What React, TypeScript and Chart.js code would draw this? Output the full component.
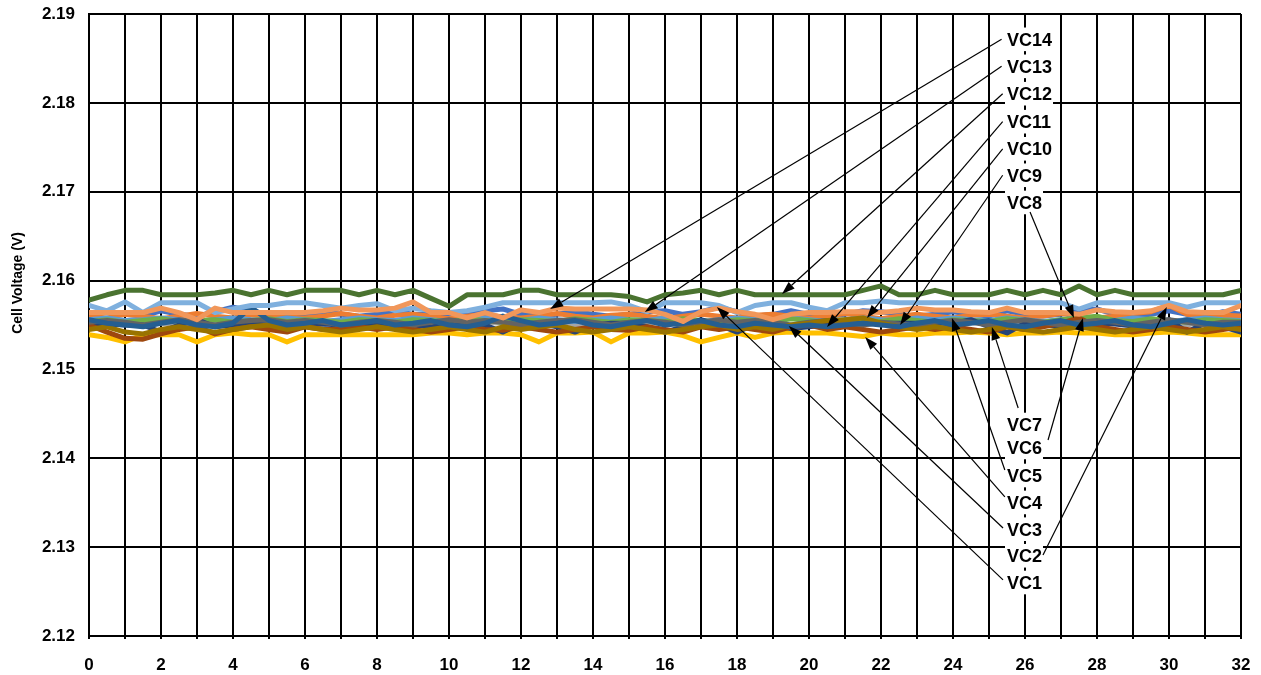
import React, { useEffect, useRef } from 'react';
import { Chart, registerables } from 'chart.js';

Chart.register(...registerables);

// Time axis (every half unit)
const TIMES = [
  0, 0.5, 1, 1.5, 2, 2.5, 3, 3.5, 4, 4.5, 5, 5.5, 6, 6.5, 7, 7.5,
  8, 8.5, 9, 9.5, 10, 10.5, 11, 11.5, 12, 12.5, 13, 13.5, 14, 14.5, 15, 15.5,
  16, 16.5, 17, 17.5, 18, 18.5, 19, 19.5, 20, 20.5, 21, 21.5, 22, 22.5, 23, 23.5,
  24, 24.5, 25, 25.5, 26, 26.5, 27, 27.5, 28, 28.5, 29, 29.5, 30, 30.5, 31, 31.5,
  32,
];

const VC1 = [
  2.1562, 2.1566, 2.1562, 2.1560, 2.1566, 2.1562, 2.1560, 2.1565, 2.1570, 2.1566, 2.1562, 2.1560, 2.1562, 2.1565, 2.1562, 2.1560,
  2.1562, 2.1566, 2.1562, 2.1562, 2.1560, 2.1562, 2.1566, 2.1568, 2.1562, 2.1560, 2.1562, 2.1565, 2.1562, 2.1560, 2.1562, 2.1565,
  2.1566, 2.1562, 2.1565, 2.1570, 2.1565, 2.1560, 2.1562, 2.1566, 2.1562, 2.1560, 2.1562, 2.1566, 2.1565, 2.1562, 2.1560, 2.1562,
  2.1565, 2.1562, 2.1560, 2.1566, 2.1562, 2.1560, 2.1562, 2.1566, 2.1568, 2.1562, 2.1560, 2.1562, 2.1566, 2.1562, 2.1560, 2.1565,
  2.1562,
];
const VC2 = [
  2.1560, 2.1558, 2.1562, 2.1560, 2.1557, 2.1560, 2.1563, 2.1560, 2.1558, 2.1561, 2.1562, 2.1559, 2.1558, 2.1560, 2.1563, 2.1560,
  2.1558, 2.1561, 2.1562, 2.1560, 2.1557, 2.1560, 2.1562, 2.1559, 2.1558, 2.1560, 2.1563, 2.1560, 2.1558, 2.1561, 2.1562, 2.1560,
  2.1557, 2.1560, 2.1562, 2.1560, 2.1558, 2.1561, 2.1562, 2.1560, 2.1558, 2.1560, 2.1563, 2.1560, 2.1557, 2.1560, 2.1562, 2.1560,
  2.1558, 2.1561, 2.1562, 2.1560, 2.1558, 2.1560, 2.1563, 2.1560, 2.1558, 2.1560, 2.1563, 2.1565, 2.1572, 2.1562, 2.1560, 2.1561,
  2.1560,
];
const VC3 = [
  2.1552, 2.1550, 2.1553, 2.1555, 2.1552, 2.1550, 2.1553, 2.1552, 2.1555, 2.1552, 2.1550, 2.1553, 2.1552, 2.1550, 2.1555, 2.1552,
  2.1550, 2.1553, 2.1552, 2.1555, 2.1552, 2.1550, 2.1553, 2.1552, 2.1550, 2.1555, 2.1552, 2.1550, 2.1553, 2.1552, 2.1550, 2.1553,
  2.1552, 2.1555, 2.1552, 2.1550, 2.1553, 2.1552, 2.1550, 2.1549, 2.1552, 2.1555, 2.1552, 2.1550, 2.1553, 2.1552, 2.1550, 2.1553,
  2.1552, 2.1555, 2.1552, 2.1550, 2.1553, 2.1552, 2.1550, 2.1553, 2.1555, 2.1552, 2.1550, 2.1553, 2.1552, 2.1550, 2.1555, 2.1552,
  2.1550,
];
const VC4 = [
  2.1539, 2.1536, 2.1531, 2.1539, 2.1539, 2.1539, 2.1531, 2.1539, 2.1541, 2.1539, 2.1539, 2.1531, 2.1539, 2.1539, 2.1539, 2.1539,
  2.1539, 2.1539, 2.1539, 2.1541, 2.1541, 2.1539, 2.1541, 2.1541, 2.1539, 2.1531, 2.1541, 2.1541, 2.1542, 2.1531, 2.1541, 2.1541,
  2.1542, 2.1538, 2.1531, 2.1536, 2.1541, 2.1536, 2.1541, 2.1542, 2.1541, 2.1541, 2.1539, 2.1537, 2.1541, 2.1539, 2.1539, 2.1541,
  2.1541, 2.1542, 2.1541, 2.1539, 2.1541, 2.1541, 2.1542, 2.1541, 2.1541, 2.1539, 2.1539, 2.1541, 2.1542, 2.1541, 2.1539, 2.1539,
  2.1539,
];
const VC5 = [
  2.1556, 2.1558, 2.1555, 2.1556, 2.1558, 2.1556, 2.1554, 2.1556, 2.1558, 2.1556, 2.1555, 2.1558, 2.1556, 2.1554, 2.1556, 2.1558,
  2.1556, 2.1555, 2.1558, 2.1556, 2.1554, 2.1556, 2.1558, 2.1556, 2.1555, 2.1558, 2.1556, 2.1554, 2.1556, 2.1558, 2.1556, 2.1555,
  2.1558, 2.1556, 2.1554, 2.1556, 2.1558, 2.1556, 2.1555, 2.1558, 2.1556, 2.1554, 2.1556, 2.1558, 2.1556, 2.1555, 2.1558, 2.1556,
  2.1558, 2.1556, 2.1555, 2.1558, 2.1556, 2.1554, 2.1556, 2.1558, 2.1556, 2.1555, 2.1558, 2.1556, 2.1554, 2.1556, 2.1558, 2.1556,
  2.1555,
];
const VC6 = [
  2.1554, 2.1556, 2.1553, 2.1555, 2.1557, 2.1554, 2.1555, 2.1556, 2.1553, 2.1555, 2.1557, 2.1554, 2.1556, 2.1555, 2.1553, 2.1556,
  2.1555, 2.1553, 2.1556, 2.1555, 2.1554, 2.1557, 2.1555, 2.1553, 2.1556, 2.1555, 2.1554, 2.1557, 2.1555, 2.1553, 2.1556, 2.1555,
  2.1554, 2.1557, 2.1555, 2.1553, 2.1556, 2.1555, 2.1554, 2.1557, 2.1555, 2.1553, 2.1556, 2.1555, 2.1554, 2.1557, 2.1555, 2.1553,
  2.1556, 2.1555, 2.1554, 2.1557, 2.1555, 2.1553, 2.1556, 2.1558, 2.1560, 2.1555, 2.1554, 2.1557, 2.1555, 2.1553, 2.1556, 2.1555,
  2.1554,
];
const VC7 = [
  2.1552, 2.1551, 2.1550, 2.1550, 2.1542, 2.1550, 2.1556, 2.1548, 2.1550, 2.1551, 2.1550, 2.1544, 2.1552, 2.1551, 2.1550, 2.1550,
  2.1550, 2.1550, 2.1550, 2.1548, 2.1550, 2.1551, 2.1550, 2.1542, 2.1552, 2.1552, 2.1548, 2.1542, 2.1550, 2.1552, 2.1552, 2.1548,
  2.1542, 2.1548, 2.1556, 2.1550, 2.1542, 2.1551, 2.1550, 2.1546, 2.1548, 2.1550, 2.1550, 2.1552, 2.1552, 2.1552, 2.1552, 2.1552,
  2.1552, 2.1556, 2.1548, 2.1541, 2.1552, 2.1550, 2.1549, 2.1552, 2.1552, 2.1551, 2.1549, 2.1552, 2.1556, 2.1542, 2.1552, 2.1548,
  2.1542,
];
const VC8 = [
  2.1550, 2.1542, 2.1535, 2.1534, 2.1540, 2.1545, 2.1548, 2.1540, 2.1545, 2.1548, 2.1545, 2.1542, 2.1548, 2.1545, 2.1545, 2.1548,
  2.1545, 2.1548, 2.1545, 2.1542, 2.1545, 2.1548, 2.1545, 2.1544, 2.1548, 2.1545, 2.1542, 2.1545, 2.1548, 2.1545, 2.1544, 2.1548,
  2.1545, 2.1542, 2.1548, 2.1545, 2.1548, 2.1545, 2.1542, 2.1548, 2.1550, 2.1545, 2.1548, 2.1545, 2.1542, 2.1545, 2.1548, 2.1545,
  2.1548, 2.1545, 2.1542, 2.1548, 2.1545, 2.1548, 2.1552, 2.1558, 2.1548, 2.1545, 2.1542, 2.1545, 2.1548, 2.1545, 2.1542, 2.1545,
  2.1548,
];
const VC9 = [
  2.1553, 2.1555, 2.1553, 2.1550, 2.1553, 2.1556, 2.1553, 2.1550, 2.1553, 2.1555, 2.1556, 2.1553, 2.1555, 2.1553, 2.1550, 2.1553,
  2.1555, 2.1553, 2.1550, 2.1553, 2.1556, 2.1553, 2.1555, 2.1553, 2.1550, 2.1553, 2.1555, 2.1556, 2.1553, 2.1550, 2.1553, 2.1555,
  2.1553, 2.1550, 2.1553, 2.1556, 2.1553, 2.1555, 2.1553, 2.1550, 2.1553, 2.1555, 2.1553, 2.1550, 2.1553, 2.1551, 2.1550, 2.1553,
  2.1555, 2.1553, 2.1550, 2.1553, 2.1556, 2.1553, 2.1550, 2.1553, 2.1555, 2.1553, 2.1550, 2.1553, 2.1556, 2.1553, 2.1550, 2.1553,
  2.1553,
];
const VC10 = [
  2.1545, 2.1548, 2.1542, 2.1540, 2.1545, 2.1548, 2.1545, 2.1542, 2.1545, 2.1548, 2.1550, 2.1545, 2.1548, 2.1545, 2.1542, 2.1545,
  2.1548, 2.1545, 2.1542, 2.1545, 2.1548, 2.1545, 2.1542, 2.1548, 2.1545, 2.1548, 2.1550, 2.1545, 2.1542, 2.1545, 2.1548, 2.1545,
  2.1542, 2.1545, 2.1548, 2.1550, 2.1545, 2.1548, 2.1545, 2.1550, 2.1552, 2.1555, 2.1556, 2.1558, 2.1552, 2.1548, 2.1545, 2.1548,
  2.1545, 2.1542, 2.1545, 2.1548, 2.1545, 2.1542, 2.1545, 2.1548, 2.1545, 2.1542, 2.1545, 2.1548, 2.1545, 2.1542, 2.1545, 2.1548,
  2.1545,
];
const VC11 = [
  2.1556, 2.1552, 2.1550, 2.1548, 2.1552, 2.1555, 2.1550, 2.1548, 2.1552, 2.1570, 2.1555, 2.1550, 2.1552, 2.1555, 2.1550, 2.1552,
  2.1555, 2.1550, 2.1552, 2.1555, 2.1550, 2.1548, 2.1552, 2.1560, 2.1555, 2.1550, 2.1552, 2.1555, 2.1550, 2.1548, 2.1552, 2.1555,
  2.1550, 2.1552, 2.1555, 2.1550, 2.1548, 2.1552, 2.1550, 2.1548, 2.1550, 2.1548, 2.1550, 2.1552, 2.1550, 2.1548, 2.1552, 2.1555,
  2.1550, 2.1552, 2.1555, 2.1550, 2.1548, 2.1552, 2.1555, 2.1550, 2.1552, 2.1555, 2.1550, 2.1548, 2.1552, 2.1556, 2.1552, 2.1550,
  2.1552,
];
const VC12 = [
  2.1578, 2.1584, 2.1589, 2.1589, 2.1584, 2.1584, 2.1584, 2.1586, 2.1589, 2.1584, 2.1589, 2.1584, 2.1589, 2.1589, 2.1589, 2.1584,
  2.1589, 2.1584, 2.1589, 2.1580, 2.1571, 2.1584, 2.1584, 2.1584, 2.1589, 2.1589, 2.1584, 2.1584, 2.1584, 2.1584, 2.1582, 2.1576,
  2.1584, 2.1586, 2.1589, 2.1584, 2.1589, 2.1584, 2.1584, 2.1584, 2.1584, 2.1584, 2.1584, 2.1589, 2.1594, 2.1584, 2.1584, 2.1589,
  2.1584, 2.1584, 2.1584, 2.1589, 2.1584, 2.1589, 2.1584, 2.1594, 2.1584, 2.1589, 2.1584, 2.1584, 2.1584, 2.1584, 2.1584, 2.1584,
  2.1589,
];
const VC13 = [
  2.1572, 2.1566, 2.1576, 2.1564, 2.1575, 2.1575, 2.1575, 2.1564, 2.1568, 2.1572, 2.1572, 2.1575, 2.1575, 2.1572, 2.1569, 2.1572,
  2.1574, 2.1566, 2.1569, 2.1566, 2.1564, 2.1566, 2.1570, 2.1575, 2.1575, 2.1575, 2.1575, 2.1575, 2.1575, 2.1576, 2.1572, 2.1565,
  2.1575, 2.1575, 2.1575, 2.1572, 2.1564, 2.1572, 2.1575, 2.1575, 2.1570, 2.1566, 2.1575, 2.1575, 2.1577, 2.1575, 2.1575, 2.1575,
  2.1575, 2.1575, 2.1575, 2.1575, 2.1575, 2.1575, 2.1575, 2.1568, 2.1575, 2.1575, 2.1575, 2.1575, 2.1575, 2.1570, 2.1575, 2.1575,
  2.1575,
];
const VC14 = [
  2.1564, 2.1564, 2.1564, 2.1564, 2.1569, 2.1564, 2.1556, 2.1569, 2.1564, 2.1564, 2.1564, 2.1564, 2.1564, 2.1566, 2.1569, 2.1567,
  2.1567, 2.1569, 2.1576, 2.1564, 2.1564, 2.1558, 2.1564, 2.1558, 2.1567, 2.1564, 2.1569, 2.1568, 2.1568, 2.1568, 2.1568, 2.1567,
  2.1562, 2.1554, 2.1565, 2.1569, 2.1565, 2.1562, 2.1556, 2.1562, 2.1564, 2.1564, 2.1565, 2.1565, 2.1564, 2.1566, 2.1569, 2.1567,
  2.1567, 2.1565, 2.1564, 2.1569, 2.1564, 2.1564, 2.1564, 2.1562, 2.1567, 2.1565, 2.1564, 2.1566, 2.1572, 2.1565, 2.1564, 2.1564,
  2.1572,
];

const SERIES_NAMES = ['VC1', 'VC2', 'VC3', 'VC4', 'VC5', 'VC6', 'VC7', 'VC8', 'VC9', 'VC10', 'VC11', 'VC12', 'VC13', 'VC14'];
const SERIES_VALUES = [VC1, VC2, VC3, VC4, VC5, VC6, VC7, VC8, VC9, VC10, VC11, VC12, VC13, VC14];
const SERIES_COLORS = [
  '#4472C4', '#ED7D31', '#A5A5A5', '#FFC000', '#5B9BD5', '#70AD47', '#264478',
  '#9E480E', '#636363', '#997300', '#255E91', '#4A7330', '#7FB0DE', '#F1975A',
];

const Y_MIN = 2.12;
const Y_MAX = 2.19;
const Y_STEP = 0.01;
const X_MIN = 0;
const X_MAX = 32;
const X_STEP = 1;
const Y_TITLE = 'Cell Voltage (V)';

// Callouts: label anchor (data), line start (data), arrow tip (data)
const CALLOUT_NAMES = ['VC14', 'VC13', 'VC12', 'VC11', 'VC10', 'VC9', 'VC8', 'VC7', 'VC6', 'VC5', 'VC4', 'VC3', 'VC2', 'VC1'];
const CALLOUT_LABEL_X = [25.5, 25.5, 25.5, 25.5, 25.5, 25.5, 25.5, 25.5, 25.5, 25.5, 25.5, 25.5, 25.5, 25.5];
const CALLOUT_LABEL_Y = [2.18715, 2.18411, 2.18103, 2.17788, 2.17483, 2.17185, 2.16879, 2.1438, 2.14122, 2.13806, 2.13503, 2.13202, 2.12903, 2.12602];
const CALLOUT_FROM_X = [25.35, 25.35, 25.38, 25.38, 25.38, 25.38, 26.14, 25.81, 26.64, 25.44, 25.44, 25.39, 26.5, 25.39];
const CALLOUT_FROM_Y = [2.18715, 2.18411, 2.18103, 2.17788, 2.17483, 2.17185, 2.16772, 2.14566, 2.14206, 2.13868, 2.13565, 2.13216, 2.12912, 2.12631];
const CALLOUT_TO_X = [12.81, 15.44, 19.25, 20.5, 21.61, 22.53, 27.36, 25.08, 27.61, 23.97, 21.56, 19.44, 29.94, 17.44];
const CALLOUT_TO_Y = [2.1568, 2.15646, 2.15849, 2.15478, 2.15579, 2.155, 2.15579, 2.15478, 2.15579, 2.15579, 2.15365, 2.1549, 2.15703, 2.15703];

const FONT_FAMILY = 'Arial, "Liberation Sans", sans-serif';

const calloutPlugin = {
  id: 'callouts',
  afterDatasetsDraw(chart: any) {
    const { ctx } = chart;
    const xs = chart.scales.x;
    const ys = chart.scales.y;
    ctx.save();
    ctx.font = `bold 18px ${FONT_FAMILY}`;
    // white label boxes
    CALLOUT_NAMES.forEach((name, i) => {
      const lx = xs.getPixelForValue(CALLOUT_LABEL_X[i]);
      const ly = ys.getPixelForValue(CALLOUT_LABEL_Y[i]);
      const w = ctx.measureText(name).width;
      ctx.fillStyle = '#ffffff';
      ctx.fillRect(lx - 2, ly - 11.8, w + 3, 23.6);
    });
    // leader lines with arrowheads
    ctx.strokeStyle = '#000';
    ctx.fillStyle = '#000';
    ctx.lineWidth = 1.2;
    CALLOUT_NAMES.forEach((_, i) => {
      const x0 = xs.getPixelForValue(CALLOUT_FROM_X[i]);
      const y0 = ys.getPixelForValue(CALLOUT_FROM_Y[i]);
      const x1 = xs.getPixelForValue(CALLOUT_TO_X[i]);
      const y1 = ys.getPixelForValue(CALLOUT_TO_Y[i]);
      const ang = Math.atan2(y1 - y0, x1 - x0);
      const len = 13;
      const hw = 4.5;
      const bx = x1 - len * Math.cos(ang);
      const by = y1 - len * Math.sin(ang);
      ctx.beginPath();
      ctx.moveTo(x0, y0);
      ctx.lineTo(bx, by);
      ctx.stroke();
      ctx.beginPath();
      ctx.moveTo(x1, y1);
      ctx.lineTo(bx + hw * Math.sin(ang), by - hw * Math.cos(ang));
      ctx.lineTo(bx - hw * Math.sin(ang), by + hw * Math.cos(ang));
      ctx.closePath();
      ctx.fill();
    });
    // text
    ctx.fillStyle = '#000';
    ctx.textAlign = 'left';
    ctx.textBaseline = 'alphabetic';
    CALLOUT_NAMES.forEach((name, i) => {
      const lx = xs.getPixelForValue(CALLOUT_LABEL_X[i]);
      const ly = ys.getPixelForValue(CALLOUT_LABEL_Y[i]);
      ctx.fillText(name, lx, ly + 6.5);
    });
    ctx.restore();
  },
  afterDraw(chart: any) {
    const { ctx } = chart;
    ctx.save();
    ctx.font = `bold 14px ${FONT_FAMILY}`;
    ctx.fillStyle = '#000';
    ctx.textAlign = 'center';
    ctx.textBaseline = 'middle';
    ctx.translate(18, 283);
    ctx.rotate(-Math.PI / 2);
    ctx.fillText(Y_TITLE, 0, 0);
    ctx.restore();
  },
};

export default function App() {
  const canvasRef = useRef<HTMLCanvasElement | null>(null);

  useEffect(() => {
    const canvas = canvasRef.current;
    if (!canvas) return;
    const datasets = SERIES_NAMES.map((name, i) => ({
      label: name,
      data: TIMES.map((t, k) => ({ x: t, y: SERIES_VALUES[i][k] })),
      borderColor: SERIES_COLORS[i],
      backgroundColor: SERIES_COLORS[i],
      borderWidth: 5,
      pointRadius: 0,
      tension: 0,
      fill: false,
      borderJoinStyle: 'round' as const,
      borderCapStyle: 'round' as const,
      order: SERIES_NAMES.length - i,
    }));
    const tickFont = { family: FONT_FAMILY, size: 17, weight: 'bold' as const };
    const chart = new Chart(canvas, {
      type: 'line',
      data: { datasets },
      plugins: [calloutPlugin],
      options: {
        animation: false,
        responsive: false,
        maintainAspectRatio: false,
        layout: { padding: { top: 14, right: 20, bottom: 0, left: 0 } },
        plugins: { legend: { display: false }, tooltip: { enabled: false }, title: { display: false } },
        scales: {
          x: {
            type: 'linear',
            min: X_MIN,
            max: X_MAX,
            ticks: {
              stepSize: X_STEP,
              autoSkip: false,
              maxRotation: 0,
              color: '#000',
              font: tickFont,
              padding: 16,
              callback: (v: any) => (Number(v) % 2 === 0 ? String(v) : ''),
            },
            grid: { color: '#000', lineWidth: 2, tickLength: 3, drawTicks: true },
            border: { color: '#000', width: 2 },
            afterFit: (s: any) => {
              s.height = 39;
              s.paddingLeft = 0;
              s.paddingRight = 0;
            },
          },
          y: {
            type: 'linear',
            min: Y_MIN,
            max: Y_MAX,
            ticks: {
              stepSize: Y_STEP,
              color: '#000',
              font: tickFont,
              padding: 14,
              callback: (v: any) => Number(v).toFixed(2),
            },
            grid: { color: '#000', lineWidth: 2, drawTicks: false },
            border: { color: '#000', width: 2 },
            afterFit: (s: any) => {
              s.width = 89;
              s.paddingTop = 0;
              s.paddingBottom = 0;
            },
          },
        },
      },
    });
    return () => chart.destroy();
  }, []);

  return (
    <div style={{ position: 'absolute', left: 0, top: 0, width: 1261, height: 675, background: '#fff' }}>
      <canvas ref={canvasRef} width={1261} height={675} style={{ display: 'block' }} />
    </div>
  );
}
